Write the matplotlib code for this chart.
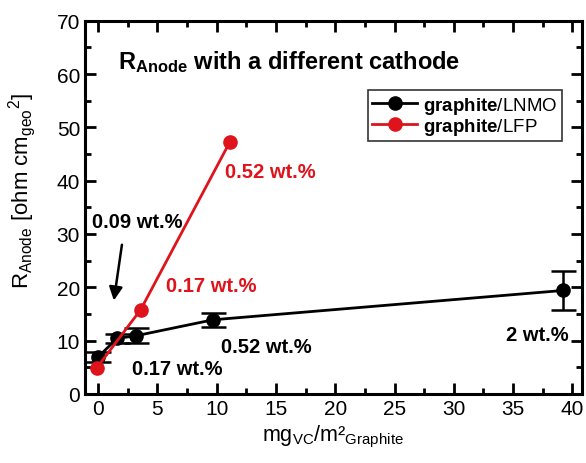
import numpy as np
import matplotlib
matplotlib.use("Agg")
import matplotlib.pyplot as plt
from matplotlib.lines import Line2D

plt.rcParams['font.family'] = ['Liberation Sans', 'DejaVu Sans']
plt.rcParams['mathtext.fontset'] = 'custom'
plt.rcParams['mathtext.rm'] = 'Liberation Sans'
plt.rcParams['mathtext.bf'] = 'Liberation Sans:bold'
plt.rcParams['mathtext.it'] = 'Liberation Sans:italic'

# datos
lnmo_x = [0.0, 1.6, 3.2, 9.7, 39.2]
lnmo_y = [6.9, 10.4, 10.9, 13.9, 19.4]
lnmo_err = [1.0, 0.8, 1.4, 1.3, 3.7]

lfp_x = [-0.1, 3.6, 11.1]
lfp_y = [4.9, 15.8, 47.2]

rojo = '#df131b'

fig = plt.figure(figsize=(5.86, 4.64), dpi=100)
ax = fig.add_axes([0.145, 0.149, 0.848, 0.804])

ax.errorbar(lnmo_x, lnmo_y, yerr=lnmo_err, color='black', lw=2, marker='o',
            ms=9.5, capsize=9, capthick=1.8, elinewidth=1.8, zorder=3)
ax.plot(lfp_x, lfp_y, color=rojo, lw=2, marker='o', ms=9.5, zorder=4)

ax.set_xlim(-1.1, 40.8)
ax.set_ylim(0, 70)
ax.set_xticks(np.arange(0, 41, 5))
ax.set_yticks(np.arange(0, 71, 10))
ax.set_xticks(np.arange(2.5, 40, 5), minor=True)
ax.set_yticks(np.arange(5, 70, 10), minor=True)
ax.tick_params(which='both', direction='in', top=True, right=True, width=2)
ax.tick_params(which='major', length=8, labelsize=15)
ax.tick_params(which='minor', length=4)
for s in ax.spines.values():
    s.set_linewidth(2.2)

ax.set_xlabel(r'mg$_{\mathrm{VC}}$/m²$_{\mathrm{Graphite}}$', fontsize=15.5, labelpad=4)
ax.set_ylabel(r'R$_{\mathrm{Anode}}$ [ohm cm$_{\mathrm{geo}}$$^{2}$]', fontsize=16)
ax.yaxis.set_label_coords(-0.094, 0.547)

# titulo dentro del grafico
ax.text(1.7, 62.5, r'R$_{\mathbf{Anode}}$ with a different cathode', fontsize=17,
        fontweight='bold', va='center', ha='left')

# anotaciones
ax.text(-0.5, 32.3, '0.09 wt.%', fontsize=14.5, fontweight='bold', va='center')
ax.annotate('', xy=(1.3, 17.0), xytext=(2.05, 28.5),
            arrowprops=dict(arrowstyle='-|>', color='black', lw=1.8,
                            mutation_scale=20))
ax.text(2.9, 4.8, '0.17 wt.%', fontsize=14.5, fontweight='bold', va='center')
ax.text(10.4, 8.8, '0.52 wt.%', fontsize=14.5, fontweight='bold', va='center')
ax.text(39.7, 11.2, '2 wt.%', fontsize=14.5, fontweight='bold', va='center', ha='right')
ax.text(5.75, 20.4, '0.17 wt.%', fontsize=14.5, fontweight='bold', va='center', color=rojo)
ax.text(10.7, 41.7, '0.52 wt.%', fontsize=14.5, fontweight='bold', va='center', color=rojo)

handles = [Line2D([], [], color='black', lw=2, marker='o', ms=9.5),
           Line2D([], [], color=rojo, lw=2, marker='o', ms=9.5)]
labels = [r'$\mathbf{graphite}$/LNMO', r'$\mathbf{graphite}$/LFP']
leg = ax.legend(handles, labels, loc='upper right', bbox_to_anchor=(0.96, 0.815),
                fontsize=13.5, frameon=True, fancybox=False, edgecolor='black',
                handlelength=2.4, borderpad=0.25, labelspacing=0.0,
                handletextpad=0.3, borderaxespad=0)
leg.get_frame().set_linewidth(1.2)

fig.savefig('out.png', dpi=100)
